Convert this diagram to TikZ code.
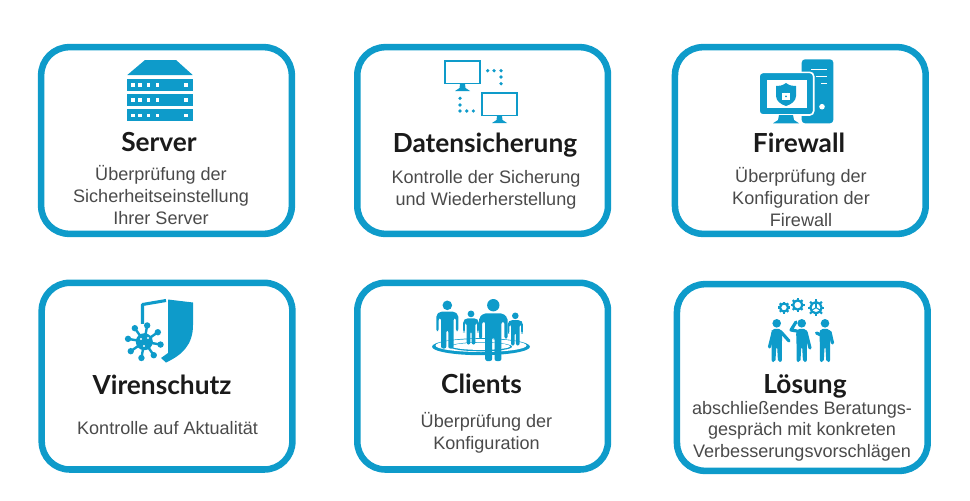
\documentclass[tikz,border=0pt]{standalone}
\usepackage{fontspec}
\setmainfont{Liberation Sans}
\newfontfamily\titlefont{Lato}
\usepackage{tikz}
\usetikzlibrary{positioning}
\definecolor{cardblue}{HTML}{0E9BCA}
\definecolor{bodygray}{HTML}{4A4A4A}
\definecolor{titleblack}{HTML}{1A1A1A}
\tikzset{card/.style =
   {rectangle,
    draw = cardblue,
    line width = 4.9pt,
    outer sep = 0pt,
    rounded corners = 21pt,
    minimum width = 188pt,
    minimum height = 140pt}}
\tikzset{title/.style =
   {anchor = base,
    inner sep = 0pt,
    text = titleblack,
    font = \titlefont\bfseries\fontsize{19.7}{24}\selectfont}}
\tikzset{body/.style =
   {align = center,
    inner sep = 0pt,
    text = bodygray,
    font = \fontsize{13.55}{16.2}\selectfont}}
\tikzset{icon/.style = {fill = cardblue, draw = none}}
\tikzset{iconline/.style = {draw = cardblue, line cap = round, line join = round}}
\tikzset{pics/person/.style =
   {code = {
    \fill [cardblue] (0,10) circle (10);
    \fill [cardblue, rounded corners = 1.5pt]
        (-23,30) -- (-15,23) -- (15,23) -- (23,30) -- (23,64) -- (18,64)
        -- (18,37) -- (13,37) -- (13,100) -- (2,100) -- (2,62) -- (-2,62)
        -- (-2,100) -- (-13,100) -- (-13,37) -- (-18,37) -- (-18,64)
        -- (-23,64) -- cycle;}}}
\tikzset{pics/trunk/.style =
   {code = {
    \fill [cardblue] (0,10) circle (10);
    \fill [cardblue, rounded corners = 1.5pt]
        (-13,30) -- (-10,23) -- (10,23) -- (13,30) -- (12,60) -- (12,100)
        -- (3,100) -- (1,64) -- (-1,64) -- (-3,100) -- (-12,100)
        -- (-12,60) -- cycle;}}}
\tikzset{pics/gear/.style =
   {code = {
    \draw [cardblue, line width = 1.7pt] (0,0) circle (1);
    \foreach \ang in {0,45,...,315}
        \draw [cardblue, line width = 1.6pt, rotate = \ang] (1.1,0) -- (1.5,0);}}}
\begin{document}
\begin{tikzpicture}[x = 0.75pt, y = -0.75pt]

    \useasboundingbox (0,0) rectangle (970,500);

    % cards
    \node [card] (server) at (166.5,140.5) {};
    \node [card, right = 49.1pt of server] (backup) {};
    \node [card, right = 50.25pt of backup] (firewall) {};
    \node [card, below = 36.75pt of server, xshift = 0.4pt] (virus) {};
    \node [card, below = 36.75pt of backup] (clients) {};
    \node [card, below = 36.75pt of firewall, xshift = 1.5pt, yshift = -1pt] (solution) {};

    % titles
    \node [title] (serverTitle) at (159,151) {Server};
    \node [title] (backupTitle) at (485,152) {Datensicherung};
    \node [title] (firewallTitle) at (799,152) {Firewall};
    \node [title] (virusTitle) at (162,394) {Virenschutz};
    \node [title] (clientsTitle) at (481.5,393) {Clients};
    \node [title] (solutionTitle) at (805,393) {Lösung};

    % descriptions
    \node [body] (serverText) at (161,195) {Überprüfung der\\Sicherheitseinstellung\\Ihrer Server};
    \node [body] (backupText) at (486,190) {Kontrolle der Sicherung\\und Wiederherstellung};
    \node [body] (firewallText) at (801,197) {Überprüfung der\\Konfiguration der\\Firewall};
    \node [body] (virusText) at (167.5,428) {Kontrolle auf Aktualität};
    \node [body] (clientsText) at (486.5,433) {Überprüfung der\\Konfiguration};
    \node [body] (solutionText) at (802,431) {abschließendes Beratungs-\\gespräch mit konkreten\\Verbesserungsvorschlägen};

    % server icon
    \fill [icon] (127.3,75) -- (145,60) -- (176,60) -- (192.7,75) -- cycle;
    \foreach \ytop in {79,94,109.3} {
        \fill [icon] (127.3,\ytop) rectangle (192.7,\ytop+12);
        \foreach \xdot in {132.7,140,148.3,157.3,186}
            \fill [white] (\xdot-1.8,\ytop+4.2) rectangle (\xdot+1.8,\ytop+7.8);
    }

    % backup icon
    \foreach \xm/\ym in {444/60,481/92} {
        \draw [cardblue, line width = 1.3pt] (\xm+0.7,\ym+0.7) rectangle (\xm+36.3,\ym+23.5);
        \fill [icon] (\xm+16,\ym+24) -- (\xm+21,\ym+24) -- (\xm+21.5,\ym+28)
            -- (\xm+26,\ym+31) -- (\xm+11,\ym+31) -- (\xm+15.5,\ym+28) -- cycle;
    }
    \foreach \xd/\yd in {487.7/70.7,494/70.7,501/70.7,501/77,501/83.7,
                         460/98.3,460/105,460/111,466.7/111,473.3/111}
        \fill [icon] (\xd,\yd) circle (1.8);

    % firewall icon
    \fill [icon, rounded corners = 2.5pt] (801.7,59.3) rectangle (833.3,123.3);
    \draw [white, line width = 1.1pt] (811,69.3) -- (826.5,69.3);
    \draw [white, line width = 1.1pt] (816,76.7) -- (826.5,76.7);
    \draw [white, line width = 1.1pt] (821,83.3) -- (826.5,83.3);
    \fill [white] (822,106.7) circle (2.8);
    \fill [icon, draw = white, line width = 1.2pt, rounded corners = 3pt] (759,72.3) rectangle (813.7,115);
    \fill [white] (766.7,80) rectangle (806.7,108.3);
    \fill [icon] (779,115) -- (793,115) -- (794,120) -- (799,123.3) -- (773,123.3) -- (778,120) -- cycle;
    \fill [icon] (786,83) .. controls (782,86) and (779,86) .. (776,86)
        -- (776,96) .. controls (776,101) and (781,104.5) .. (786,106)
        .. controls (791,104.5) and (796,101) .. (796,96) -- (796,86)
        .. controls (793,86) and (790,86) .. (786,83) -- cycle;
    \fill [white] (782.3,93) rectangle (789.7,100);
    \draw [white, line width = 0.8pt] (783.8,93) arc (180:0:2.2);
    \fill [cardblue] (786,96.3) circle (1);

    % virus icon
    \draw [iconline, line width = 2.3pt, line cap = butt] (142.5,328) -- (142.5,304.5) -- (166,300.5);
    \fill [icon] (168,299.5) -- (193,302.5) -- (193,325)
        .. controls (193,345) and (182,355) .. (166,362.5)
        -- (161,358) -- (168,353) -- cycle;
    \fill [white] (122,324) rectangle (168,353);
    \fill [white] (122,353) rectangle (158,364);
    \fill [icon] (144.3,341.7) circle (8.5);
    \foreach \ang in {0,45,...,315} {
        \draw [iconline, line width = 1.8pt] (144.3,341.7) -- +(\ang+10:16);
        \fill [icon] (144.3,341.7) ++(\ang+10:16.5) circle (3.2);
    }
    \foreach \xd/\yd in {141/339,148/338,144/346}
        \fill [white] (\xd,\yd) circle (1.1);

    % clients icon
    \fill [icon] (481,346.7) ellipse (49 and 8.5);
    \fill [white] (481,345.5) ellipse (45.5 and 6.5);
    \fill [icon] (481,346.7) ellipse (31 and 4.6);
    \fill [white] (481,346.3) ellipse (29 and 3.6);
    \pic (clientA) [scale = 0.48] at (447.3,300.5) {person};
    \pic (clientB) [scale = 0.34] at (471,310.5) {person};
    \pic (clientC) [scale = 0.62] at (493.3,299) {person};
    \pic (clientD) [scale = 0.33] at (515.3,312.5) {person};

    % solution icon
    \pic (peopleA) [scale = 0.43] at (776.7,319) {trunk};
    \pic (peopleB) [scale = 0.43] at (801.7,319) {trunk};
    \pic (peopleC) [scale = 0.43] at (825,319) {trunk};
    \draw [iconline, line width = 2.4pt] (773,333) -- (769.5,347);
    \draw [iconline, line width = 2.4pt] (781,332) -- (789,341);
    \draw [iconline, line width = 2.4pt] (797,331) -- (791,330) -- (796,322);
    \draw [iconline, line width = 2.4pt] (806,332) -- (810,348);
    \draw [iconline, line width = 2.4pt] (821,335) -- (816.5,333);
    \draw [iconline, line width = 2.4pt] (830,332) -- (832.5,343);
    \pic (gearA) [scale = 4] at (784,307.5) {gear};
    \pic (gearB) [scale = 4.6] at (797.7,305) {gear};
    \pic (gearC) [scale = 5.6] at (816,307.7) {gear};
    \foreach \ang in {30,150,270}
        \draw [cardblue, line width = 0.8pt] (816,307.7) -- +(\ang:5.6);

\end{tikzpicture}
\end{document}
